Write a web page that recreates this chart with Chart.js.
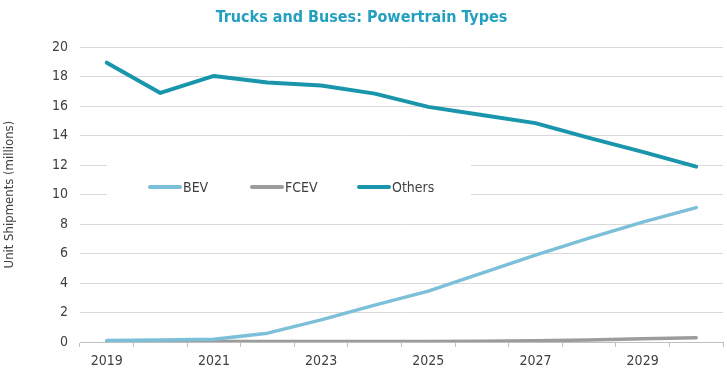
<!DOCTYPE html>
<html>
<head>
<meta charset="utf-8">
<script src="https://cdn.jsdelivr.net/npm/chart.js@4.4.0/dist/chart.umd.min.js"></script>
<style>
  html, body { margin: 0; padding: 0; background: #fff; }
</style>
</head>
<body>
<canvas id="chart" width="727" height="375"></canvas>
<script>
// categories (one per year) and series values, millions of units
var years = ['2019', '2020', '2021', '2022', '2023', '2024', '2025', '2026', '2027', '2028', '2029', '2030'];
var bev = [0.1, 0.13, 0.18, 0.6, 1.5, 2.5, 3.45, 4.67, 5.9, 7.05, 8.13, 9.12];
var fcev = [0.02, 0.03, 0.03, 0.03, 0.03, 0.03, 0.04, 0.05, 0.08, 0.14, 0.22, 0.29];
var others = [18.95, 16.9, 18.05, 17.6, 17.4, 16.85, 15.95, 15.4, 14.85, 13.85, 12.9, 11.9];

var FONT = "'Liberation Sans Narrow', 'DejaVu Sans Condensed', sans-serif";

// legend sits in a white box inside the plot
var boxLegend = {
  id: 'boxLegend',
  beforeDatasetsDraw: function(chart) {
    var ctx = chart.ctx;
    ctx.save();
    ctx.fillStyle = '#ffffff';
    ctx.fillRect(107, 150, 364, 66);
    var starts = [148, 250, 357];
    chart.data.datasets.forEach(function(ds, i) {
      var x = starts[i], y = 187;
      ctx.strokeStyle = ds.borderColor;
      ctx.lineWidth = 4;
      ctx.lineCap = 'round';
      ctx.beginPath();
      ctx.moveTo(x + 2, y);
      ctx.lineTo(x + 32, y);
      ctx.stroke();
      ctx.fillStyle = '#404040';
      ctx.font = '14px ' + FONT;
      ctx.textBaseline = 'middle';
      ctx.fillText(ds.label, x + 35, y + 1);
    });
    ctx.restore();
  }
};

var chart = new Chart(document.getElementById('chart').getContext('2d'), {
  type: 'line',
  data: {
    labels: years,
    datasets: [
      { label: 'BEV', data: bev, borderColor: '#7cbfd8', borderWidth: 3.5 },
      { label: 'FCEV', data: fcev, borderColor: '#9c9c9c', borderWidth: 3.5 },
      { label: 'Others', data: others, borderColor: '#1a96ac', borderWidth: 4 }
    ]
  },
  options: {
    responsive: false,
    animation: false,
    layout: { padding: { left: 0, right: 4, top: 0, bottom: 0 } },
    elements: {
      point: { radius: 0 },
      line: { tension: 0, borderCapStyle: 'round', borderJoinStyle: 'round' }
    },
    plugins: {
      legend: { display: false },
      tooltip: { enabled: false },
      title: {
        display: true,
        text: 'Trucks and Buses: Powertrain Types',
        color: '#23a0bf',
        font: { family: FONT, size: 16, weight: 'bold' },
        padding: { top: 8, bottom: 20 }
      }
    },
    scales: {
      x: {
        offset: true,
        afterFit: function(s) { s.height = 33; },
        border: { display: true, color: '#bfbfbf' },
        grid: { offset: true, drawOnChartArea: false, drawTicks: true, tickLength: 5, color: '#bfbfbf' },
        ticks: {
          autoSkip: false,
          maxRotation: 0,
          padding: 6,
          color: '#404040',
          font: { family: FONT, size: 14 },
          callback: function(v, i) { return i % 2 === 0 ? this.getLabelForValue(v) : ''; }
        }
      },
      y: {
        min: 0,
        max: 20,
        afterFit: function(s) { s.width = 80; },
        border: { display: false },
        grid: { color: '#d9d9d9', drawTicks: false },
        ticks: {
          stepSize: 2,
          padding: 12,
          color: '#404040',
          font: { family: FONT, size: 14 }
        },
        title: {
          display: true,
          text: 'Unit Shipments (millions)',
          color: '#404040',
          font: { family: FONT, size: 13 },
          padding: { top: 2, bottom: 0 }
        }
      }
    }
  },
  plugins: [boxLegend]
});
</script>
</body>
</html>
